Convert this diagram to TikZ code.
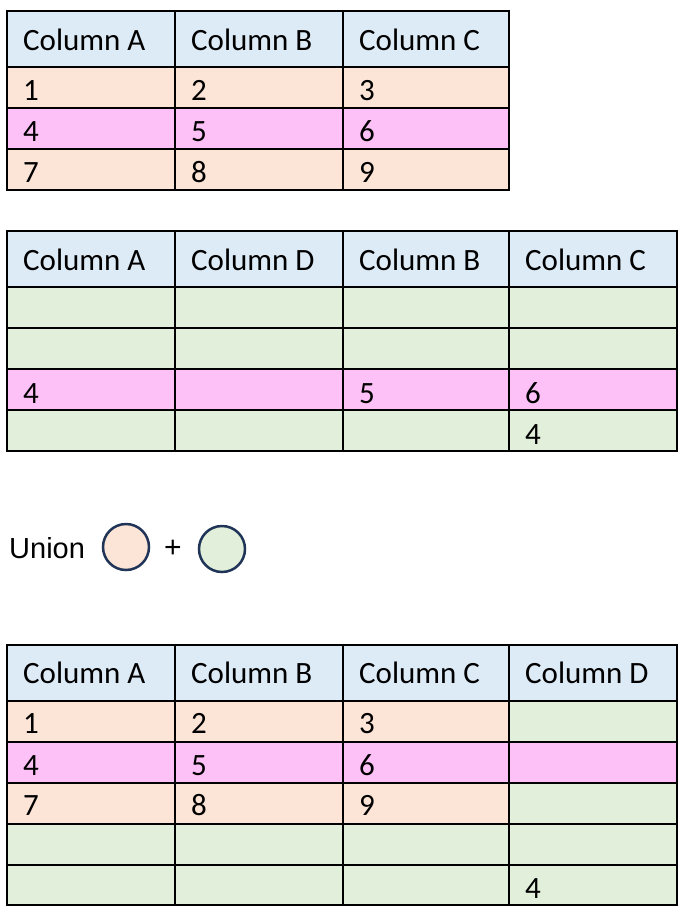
\documentclass[tikz,border=0pt]{standalone}
\usepackage{fontspec}
\setmainfont{Carlito}
\newfontfamily\arialfont{Liberation Sans}
\definecolor{hdrblue}{HTML}{DDEBF7}
\definecolor{peach}{HTML}{FCE4D6}
\definecolor{pinkrow}{HTML}{FDC1F7}
\definecolor{greenrow}{HTML}{E2EFDA}
\definecolor{navy}{HTML}{1F3457}

\begin{document}
\begin{tikzpicture}[x=1pt, y=-1pt,
    gridline/.style={draw=black, line width=2pt},
    cell/.style={anchor=base west, inner sep=0pt,
        font=\fontsize{31}{34}\selectfont},
    bubble/.style={circle, draw=navy, line width=2.5pt,
        minimum size=46pt, inner sep=0pt}
]
    \useasboundingbox (0,0) rectangle (692,918);

    % first table
    \foreach \ya/\yb/\shade in {11/67/hdrblue, 67/108/peach, 108/149/pinkrow, 149/190/peach}
        \fill[\shade] (7,\ya) rectangle (509,\yb);
    \draw[gridline] (7,11) rectangle (509,190);
    \foreach \y in {67,108,149} \draw[gridline] (7,\y) -- (509,\y);
    \foreach \x in {175,343} \draw[gridline] (\x,11) -- (\x,190);
    \node[cell] (ah1) at (23,50) {Column A};
    \node[cell] (ah2) at (191,50) {Column B};
    \node[cell] (ah3) at (359,50) {Column C};
    \foreach \a/\b/\c/\y [count=\r] in {1/2/3/100, 4/5/6/141, 7/8/9/182} {
        \node[cell] (a\r1) at (23,\y) {\a};
        \node[cell] (a\r2) at (191,\y) {\b};
        \node[cell] (a\r3) at (359,\y) {\c};
    }

    % second table
    \foreach \ya/\yb/\shade in {231/287/hdrblue, 287/328/greenrow, 328/369/greenrow,
        369/410/pinkrow, 410/451/greenrow}
        \fill[\shade] (7,\ya) rectangle (677,\yb);
    \draw[gridline] (7,231) rectangle (677,451);
    \foreach \y in {287,328,369,410} \draw[gridline] (7,\y) -- (677,\y);
    \foreach \x in {175,343,509} \draw[gridline] (\x,231) -- (\x,451);
    \node[cell] (bh1) at (23,270) {Column A};
    \node[cell] (bh2) at (191,270) {Column D};
    \node[cell] (bh3) at (359,270) {Column B};
    \node[cell] (bh4) at (525,270) {Column C};
    \node[cell] (b31) at (23,403) {4};
    \node[cell] (b33) at (359,403) {5};
    \node[cell] (b34) at (525,403) {6};
    \node[cell] (b44) at (525,444) {4};

    % union
    \node[anchor=base west, inner sep=0pt, font=\arialfont\fontsize{29}{32}\selectfont]
        (union) at (9,558) {Union};
    \node[bubble, fill=peach] (peachdot) at (126,547) {};
    \node[bubble, fill=greenrow] (greendot) at (222,549) {};
    \node[inner sep=0pt, font=\arialfont\fontsize{30}{32}\selectfont]
        (plus) at (173,549) {+};

    % third table
    \foreach \ya/\yb/\shade in {645/701/hdrblue, 701/742/peach, 742/783/pinkrow,
        783/824/peach, 824/865/greenrow, 865/905/greenrow}
        \fill[\shade] (7,\ya) rectangle (677,\yb);
    \fill[greenrow] (509,701) rectangle (677,742);
    \fill[greenrow] (509,783) rectangle (677,824);
    \draw[gridline] (7,645) rectangle (677,905);
    \foreach \y in {701,742,783,824,865} \draw[gridline] (7,\y) -- (677,\y);
    \foreach \x in {175,343,509} \draw[gridline] (\x,645) -- (\x,905);
    \node[cell] (ch1) at (23,683) {Column A};
    \node[cell] (ch2) at (191,683) {Column B};
    \node[cell] (ch3) at (359,683) {Column C};
    \node[cell] (ch4) at (525,683) {Column D};
    \foreach \a/\b/\c/\y [count=\r] in {1/2/3/733, 4/5/6/775, 7/8/9/815} {
        \node[cell] (c\r1) at (23,\y) {\a};
        \node[cell] (c\r2) at (191,\y) {\b};
        \node[cell] (c\r3) at (359,\y) {\c};
    }
    \node[cell] (c54) at (525,898) {4};
\end{tikzpicture}
\end{document}
